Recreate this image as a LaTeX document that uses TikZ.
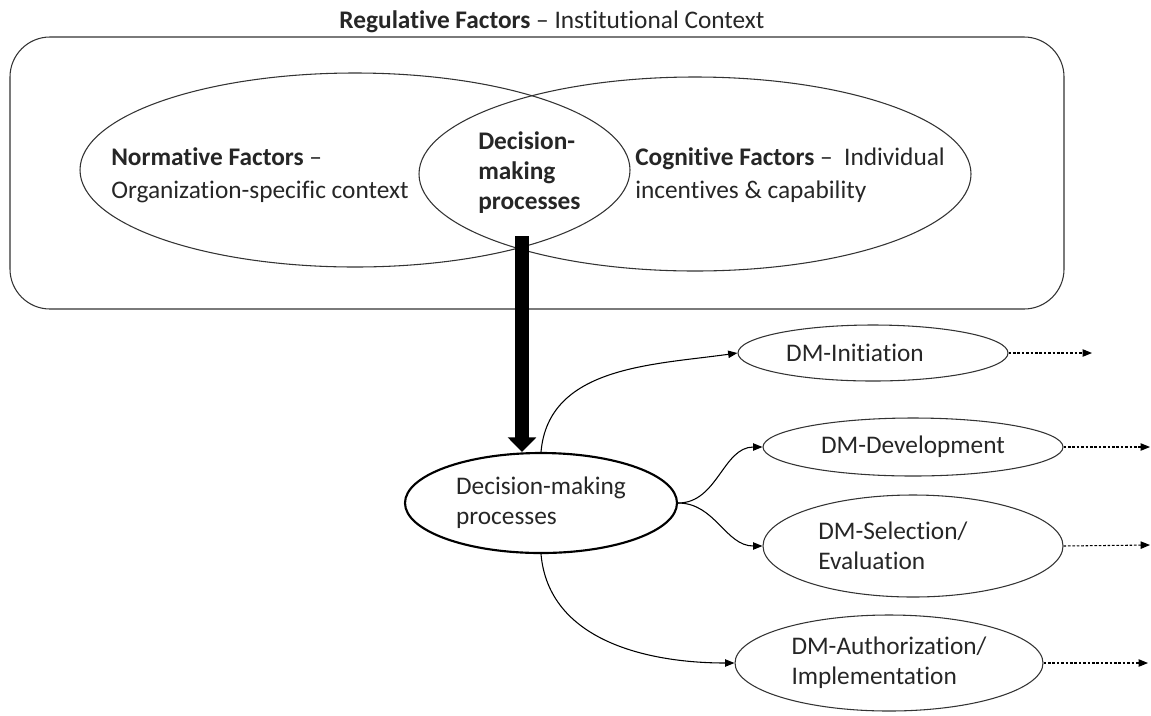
\documentclass[tikz,border=0pt]{standalone}
\usepackage{fontspec}
\setmainfont{Carlito}[Ligatures=NoCommon]
\usetikzlibrary{shapes.geometric,arrows.meta}
\definecolor{ink}{HTML}{262626}
\definecolor{linec}{HTML}{333333}
\tikzset{
  oval/.style={ellipse, draw=linec, line width=0.8pt, inner sep=0pt, text=ink, align=left,
    font=\fontsize{19}{22.5}\selectfont},
  txt/.style={text=ink, align=left, inner sep=0pt, font=\fontsize{19}{24.75}\selectfont},
  ovtxt/.style={text=ink, align=left, inner sep=0pt, font=\fontsize{19}{22.5}\selectfont},
  conn/.style={draw=black, line width=0.8pt, -{Triangle[length=7pt,width=5.5pt]}},
  dotconn/.style={draw=black, line width=0.8pt, dash pattern=on 2pt off 1.3pt, -{Triangle[length=7pt,width=5.5pt]}},
  bigarrow/.style={draw=black, line width=10.5pt, -{Triangle[length=11pt,width=21pt]}}
}
\begin{document}
\begin{tikzpicture}[x=0.75pt,y=-0.75pt]
\useasboundingbox (0,0) rectangle (1151,715);
% title and frame
\node[txt, anchor=center] (title) at (552,22) {\textbf{Regulative Factors} – Institutional Context};
\draw[draw=linec, line width=0.8pt, rounded corners=30pt] (10,37) rectangle (1064,309);
% top ellipses
\node[oval, minimum width=412.5pt, minimum height=145.5pt] (left) at (355,170) {};
\node[oval, minimum width=414pt, minimum height=145.5pt] (right) at (695,174) {};
\node[txt, anchor=west] (normtxt) at (111,175) {\textbf{Normative Factors} –\\Organization-specific context};
\node[txt, anchor=west] (cogtxt) at (635,175) {\textbf{Cognitive Factors} –\ \ Individual\\incentives \& capability};
\node[txt, anchor=west, font=\fontsize{19}{22.5}\selectfont\bfseries] (lens) at (478,173) {Decision-\\making\\processes};
% bottom
\node[oval, line width=1.6pt, draw=black, minimum width=204pt, minimum height=75pt] (main) at (541,503) {Decision-making\\processes};
\node[oval, minimum width=202.5pt, minimum height=42pt] (init) at (873,353) {};
\node[ovtxt] (inittxt) at (855,353) {DM-Initiation};
\node[oval, minimum width=225pt, minimum height=43.5pt] (dev) at (913,447) {DM-Development};
\node[oval, minimum width=225pt, minimum height=76.5pt] (sel) at (913,546) {};
\node[ovtxt, anchor=west] (seltxt) at (818,546) {DM-Selection/\\Evaluation};
\node[oval, minimum width=231pt, minimum height=72pt] (auth) at (889,663) {DM-Authorization/\\Implementation};
% big arrow
\coordinate (bigstart) at (522,236);
\draw[bigarrow] (bigstart) -- (bigstart |- main.north);
% connectors
\draw[conn] (main.north) to[out=85,in=188] (init.west);
\draw[conn] (main.east) to[out=0,in=180] (dev.west);
\draw[conn] (main.east) to[out=0,in=180] (sel.west);
\draw[conn] (main.south) to[out=-85,in=180] (auth.west);
% dotted outgoing
\coordinate (initend) at (1092,353);
\coordinate (devend) at (1150,447);
\coordinate (selend) at (1150,545);
\coordinate (authend) at (1148,663);
\draw[dotconn] (init.east) -- (initend);
\draw[dotconn] (dev.east) -- (devend);
\draw[dotconn] (sel.east) -- (selend);
\draw[dotconn] (auth.east) -- (authend);
\end{tikzpicture}
\end{document}
